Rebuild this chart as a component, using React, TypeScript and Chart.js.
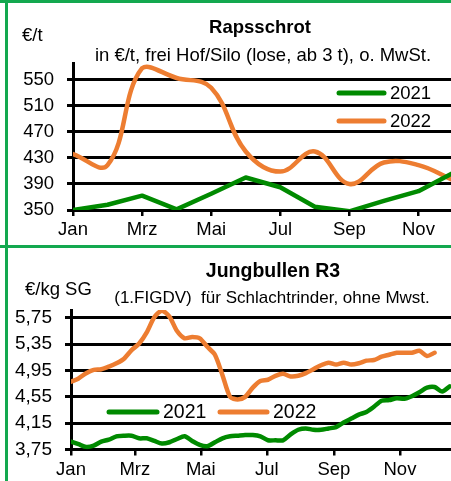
import React, { useEffect, useRef } from "react";
import { Chart, registerables } from "chart.js";
Chart.register(...registerables);

// ---------- data ----------
const rapsMonthNames = ["Jan", "Feb", "Mrz", "Apr", "Mai", "Jun", "Jul", "Aug", "Sep", "Okt", "Nov", "Dez"];
const rapsTickMonths = [0, 2, 4, 6, 8, 10];
const raps2021 = [350, 358, 372, 351, 375, 400, 385, 355, 348, 364, 379, 407];
const raps2022 = [436, 419, 568, 553, 538, 440, 409, 440, 390, 423, 419, 396];
const rapsYTicks = [350, 390, 430, 470, 510, 550];

const bullenTickLabels = ["Jan", "Mrz", "Mai", "Jul", "Sep", "Nov"];
const bullenTickWeeks = [0, 8.43, 17.14, 25.86, 34.71, 43.43];
const bullen2021 = [3.87, 3.83, 3.79, 3.81, 3.87, 3.9, 3.95, 3.96, 3.96, 3.92, 3.92, 3.88, 3.84, 3.86, 3.91, 3.95, 3.88, 3.82, 3.8, 3.86, 3.92, 3.95, 3.96, 3.97, 3.97, 3.95, 3.89, 3.89, 3.89, 3.98, 4.05, 4.07, 4.05, 4.05, 4.07, 4.09, 4.16, 4.22, 4.28, 4.32, 4.4, 4.49, 4.5, 4.53, 4.52, 4.56, 4.62, 4.69, 4.7, 4.63, 4.71];
const bullen2022 = [4.78, 4.83, 4.91, 4.96, 4.97, 5.01, 5.06, 5.13, 5.26, 5.36, 5.53, 5.76, 5.86, 5.77, 5.55, 5.44, 5.46, 5.44, 5.31, 5.19, 4.88, 4.55, 4.51, 4.55, 4.69, 4.79, 4.81, 4.87, 4.9, 4.86, 4.87, 4.91, 4.97, 5.03, 5.07, 5.04, 5.07, 5.04, 5.06, 5.1, 5.11, 5.16, 5.19, 5.22, 5.22, 5.22, 5.25, 5.17, 5.22];
const bullenYTicks = [3.75, 4.15, 4.55, 4.95, 5.35, 5.75];

const seriesLabels = ["2021", "2022"];

// ---------- style ----------
const GREEN = "#008a00";
const ORANGE = "#ed7d31";
const FRAME = "#13a84f";
const SANS = "'Liberation Sans', Arial, sans-serif";

function hasFont(name: string) {
  const ctx = document.createElement("canvas").getContext("2d")!;
  ctx.font = "40px monospace";
  const a = ctx.measureText("JanMrzWw").width;
  ctx.font = `40px '${name}', monospace`;
  const b = ctx.measureText("JanMrzWw").width;
  return a !== b;
}

type TextItem = { text: string; x: number; y: number; font: string; align: CanvasTextAlign };
type LegendItem = { x1: number; x2: number; y: number; tx: number };

function overlayPlugin(texts: TextItem[], legend: LegendItem[], legendFont: string) {
  return {
    id: "overlay",
    afterDraw(chart: any) {
      const ctx = chart.ctx as CanvasRenderingContext2D;
      ctx.save();
      ctx.fillStyle = "#000";
      ctx.textBaseline = "alphabetic";
      texts.forEach((t) => {
        ctx.font = t.font;
        ctx.textAlign = t.align;
        ctx.fillText(t.text, t.x, t.y);
      });
      chart.data.datasets.forEach((ds: any, i: number) => {
        const l = legend[i];
        if (!l) return;
        ctx.strokeStyle = ds.borderColor;
        ctx.lineWidth = 5;
        ctx.lineCap = "round";
        ctx.beginPath();
        ctx.moveTo(l.x1, l.y);
        ctx.lineTo(l.x2, l.y);
        ctx.stroke();
        ctx.font = legendFont;
        ctx.textAlign = "left";
        ctx.textBaseline = "middle";
        ctx.fillStyle = "#000";
        ctx.fillText(ds.label, l.tx, l.y + 1);
      });
      ctx.restore();
    },
  };
}

function makeConfig(opts: {
  datasets: any[];
  xMax: number;
  xTicks: number[];
  xLabel: (v: number, i: number) => string;
  yMin: number;
  yMax: number;
  yTicks: number[];
  yLabel: (v: number) => string;
  yWidth: number;
  xHeight: number;
  padTop: number;
  xFont: any;
  yFont: any;
  plugin: any;
}) {
  return {
    type: "line",
    data: { datasets: opts.datasets },
    options: {
      animation: false,
      responsive: false,
      devicePixelRatio: 1,
      layout: { padding: { top: opts.padTop, left: 0, right: 0, bottom: 0 } },
      plugins: { legend: { display: false }, tooltip: { enabled: false }, title: { display: false } },
      elements: { point: { radius: 0 } },
      scales: {
        x: {
          type: "linear",
          min: 0,
          max: opts.xMax,
          afterBuildTicks: (axis: any) => {
            axis.ticks = opts.xTicks.map((v) => ({ value: v }));
          },
          afterFit: (s: any) => {
            s.height = opts.xHeight;
          },
          ticks: {
            autoSkip: false,
            maxRotation: 0,
            color: "#000",
            font: opts.xFont,
            padding: 3,
            callback: (v: number, i: number) => opts.xLabel(v, i),
          },
          grid: { drawOnChartArea: false, color: "#000", lineWidth: 2.5, tickLength: 6 },
          border: { display: true, color: "#000", width: 3 },
        },
        y: {
          type: "linear",
          min: opts.yMin,
          max: opts.yMax,
          afterBuildTicks: (axis: any) => {
            axis.ticks = opts.yTicks.map((v) => ({ value: v }));
          },
          afterFit: (s: any) => {
            s.width = opts.yWidth;
          },
          ticks: {
            color: "#000",
            font: opts.yFont,
            padding: 13,
            callback: (v: number) => opts.yLabel(v),
          },
          grid: { color: "#000", lineWidth: 3, tickLength: 6 },
          border: { display: true, color: "#000", width: 3 },
        },
      },
    },
    plugins: [opts.plugin],
  } as any;
}

export default function App() {
  const topRef = useRef<HTMLCanvasElement>(null);
  const botRef = useRef<HTMLCanvasElement>(null);

  useEffect(() => {
    document.body.style.margin = "0";
    const narrow = hasFont("Liberation Sans Narrow");
    const xFont = narrow
      ? { family: "'Liberation Sans Narrow', 'Liberation Sans', sans-serif", size: 22 }
      : { family: SANS, size: 18.5 };
    const yFont = { family: SANS, size: 18.5 };
    const legendFont = `18.5px ${SANS}`;

    const top = new Chart(
      topRef.current!,
      makeConfig({
        datasets: [
          {
            label: seriesLabels[0],
            data: raps2021.map((v, i) => ({ x: i, y: v })),
            borderColor: GREEN,
            borderWidth: 4.5,
            tension: 0,
            borderJoinStyle: "round",
            borderCapStyle: "round",
          },
          {
            label: seriesLabels[1],
            data: raps2022.map((v, i) => ({ x: i, y: v })),
            borderColor: ORANGE,
            borderWidth: 4.5,
            tension: 0.4,
            borderCapStyle: "round",
          },
        ],
        xMax: 11,
        xTicks: rapsTickMonths,
        xLabel: (v) => rapsMonthNames[Math.round(v)],
        yMin: 350,
        yMax: 576,
        yTicks: rapsYTicks,
        yLabel: (v) => String(v),
        yWidth: 73,
        xHeight: 35,
        padTop: 63,
        xFont,
        yFont,
        plugin: overlayPlugin(
          [
            { text: "Rapsschrot", x: 260, y: 33, font: `bold 18.5px ${SANS}`, align: "center" },
            { text: "in €/t, frei Hof/Silo (lose, ab 3 t), o. MwSt.", x: 263, y: 61, font: `18.5px ${SANS}`, align: "center" },
            { text: "€/t", x: 22, y: 41, font: `18.5px ${SANS}`, align: "left" },
          ],
          [
            { x1: 339, x2: 384, y: 93, tx: 390 },
            { x1: 339, x2: 384, y: 121, tx: 390 },
          ],
          legendFont
        ),
      })
    );

    const bot = new Chart(
      botRef.current!,
      makeConfig({
        datasets: [
          {
            label: seriesLabels[0],
            data: bullen2021.map((v, i) => ({ x: i, y: v })),
            borderColor: GREEN,
            borderWidth: 4.5,
            tension: 0.25,
            borderJoinStyle: "round",
            borderCapStyle: "round",
          },
          {
            label: seriesLabels[1],
            data: bullen2022.map((v, i) => ({ x: i, y: v })),
            borderColor: ORANGE,
            borderWidth: 4.5,
            tension: 0.25,
            borderJoinStyle: "round",
            borderCapStyle: "round",
          },
        ],
        xMax: 50.17,
        xTicks: bullenTickWeeks,
        xLabel: (_v, i) => bullenTickLabels[i],
        yMin: 3.75,
        yMax: 5.87,
        yTicks: bullenYTicks,
        yLabel: (v) => v.toFixed(2).replace(".", ","),
        yWidth: 71,
        xHeight: 31.5,
        padTop: 62,
        xFont,
        yFont: { family: SANS, size: 19 },
        plugin: overlayPlugin(
          [
            { text: "Jungbullen R3", x: 273, y: 29, font: `bold 19.5px ${SANS}`, align: "center" },
            { text: "(1.FIGDV)  für Schlachtrinder, ohne Mwst.", x: 272, y: 55, font: `17px ${SANS}`, align: "center" },
            { text: "€/kg SG", x: 25, y: 47, font: `18.5px ${SANS}`, align: "left" },
          ],
          [
            { x1: 109, x2: 157, y: 164, tx: 163 },
            { x1: 220, x2: 267, y: 164, tx: 273 },
          ],
          `19.5px ${SANS}`
        ),
      })
    );

    return () => {
      top.destroy();
      bot.destroy();
    };
  }, []);

  return (
    <div style={{ position: "fixed", left: 0, top: 0, width: 451, height: 481, overflow: "hidden", background: "#fff" }}>
      <canvas ref={topRef} width={453} height={245} style={{ position: "absolute", left: 0, top: 0, width: 453, height: 245 }} />
      <canvas ref={botRef} width={451} height={233} style={{ position: "absolute", left: 0, top: 248, width: 451, height: 233 }} />
      <div style={{ position: "absolute", left: 0, top: 0, width: 451, height: 3, background: FRAME }} />
      <div style={{ position: "absolute", left: 0, top: 245, width: 451, height: 3, background: FRAME }} />
      <div style={{ position: "absolute", left: 5, top: 0, width: 3, height: 481, background: FRAME }} />
    </div>
  );
}
